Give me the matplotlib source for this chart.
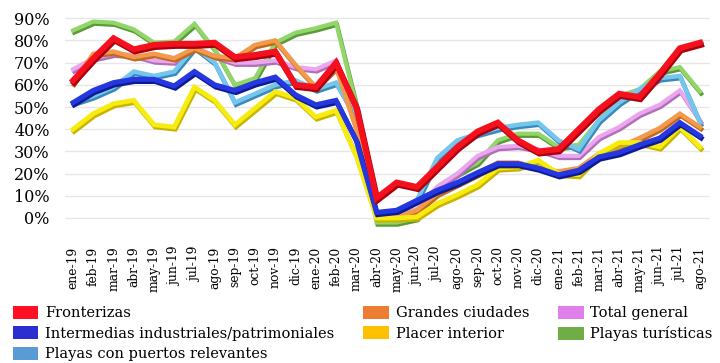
import numpy as np
import matplotlib.pyplot as plt
import matplotlib.patheffects as pe
from matplotlib.patches import Patch

plt.rcParams['font.family'] = ['DejaVu Serif']

months = ['ene-19', 'feb-19', 'mar-19', 'abr-19', 'may-19', 'jun-19', 'jul-19', 'ago-19',
          'sep-19', 'oct-19', 'nov-19', 'dic-19', 'ene-20', 'feb-20', 'mar-20', 'abr-20',
          'may-20', 'jun-20', 'jul-20', 'ago-20', 'sep-20', 'oct-20', 'nov-20', 'dic-20',
          'ene-21', 'feb-21', 'mar-21', 'abr-21', 'may-21', 'jun-21', 'jul-21', 'ago-21']

# occupancy (%) by city group
fronterizas = [62, 72, 81, 76, 78, 78.5, 78.5, 79, 72.5, 73.5, 75, 60, 59, 70, 50, 9,
               16, 14, 23, 32, 39, 43, 35, 30, 31, 40, 49, 56, 54.5, 65, 76.5, 79]
grandes = [61, 74, 75, 72.5, 74, 72, 76.5, 73, 72, 78, 80, 69, 59, 68, 40, 1,
           0.5, 3.5, 11, 15.5, 20, 25, 25, 22.5, 21, 22.5, 29, 32, 36, 40.5, 47, 41]
total = [67, 72, 74, 73.5, 71, 70.5, 77, 73, 70, 70, 71, 68, 67, 71, 45, 1,
         2, 4, 14, 20, 28, 32, 32.5, 31, 28, 28, 36.5, 41, 47, 51, 57.5, 44]
intermedias = [52, 57.5, 61, 62.5, 62.5, 59.5, 66, 60, 57.5, 61, 63.5, 55.5, 51, 53, 35, 2.5,
               3.5, 8, 12.5, 16, 20.5, 24.5, 24.5, 22.5, 19.5, 21.5, 27.5, 29.5, 33, 36, 43, 37]
placer = [40, 47, 51.5, 53, 42, 41, 59, 53, 42, 49.5, 57, 54, 45.5, 48.5, 28, 0,
          0, 0.5, 6.5, 10.5, 15, 22.5, 23, 26, 20, 19.5, 29, 34, 34, 32, 41, 32]
turisticas = [84.5, 88.5, 88, 85, 79, 79.5, 87.5, 76, 60, 63, 79, 83.5, 85.5, 88, 51, -2,
              -2, 0, 14, 20, 25, 35, 38, 38, 32, 33, 44, 55, 58, 66, 68, 57]
puertos = [52, 55, 59, 66, 64, 66, 77, 70, 52, 56, 60, 62, 58, 61, 45, 1,
           3, 8, 27, 35, 38, 40.5, 42, 43, 35, 31, 44, 52, 58, 63, 64, 43]

x = np.arange(len(months))

fig = plt.figure(figsize=(7.2, 3.63), dpi=100)
ax = fig.add_axes([0.0903, 0.375, 0.896, 0.587])

# (name, values, line colour, edge colour, legend colour, width), back to front
series = [
    ('Playas turísticas', turisticas, '#92d66a', '#5a9a3a', '#70ad47', 3.0),
    ('Total general', total, '#eca6f0', '#b070b8', '#df7fe9', 3.0),
    ('Playas con puertos relevantes', puertos, '#74c6ee', '#3a8ab8', '#5b9bd5', 3.2),
    ('Grandes ciudades', grandes, '#f29a4c', '#c06a20', '#ed7d31', 3.2),
    ('Placer interior', placer, '#f7ec10', '#c8b400', '#ffc000', 3.4),
    ('Intermedias industriales/patrimoniales', intermedias, '#2437e0', '#101a90', '#2c2fcf', 3.6),
    ('Fronterizas', fronterizas, '#f5101e', '#a8000e', '#ff1123', 4.2),
]

for name, vals, col, edge, _, lw in series:
    ax.plot(x, vals, color=col, linewidth=lw, solid_joinstyle='miter',
            path_effects=[pe.SimpleLineShadow(offset=(0.8, -1.6), shadow_color=edge, alpha=1.0),
                          pe.Normal()])

ax.set_xlim(-0.4, 31.5)
ax.set_ylim(-4, 92)
ax.set_yticks(np.arange(0, 91, 10))
ax.set_yticklabels([f'{v}%' for v in range(0, 91, 10)], fontsize=11.5)
ax.set_xticks(x)
ax.set_xticklabels(months, rotation=90, fontsize=8.8)
ax.tick_params(axis='both', length=0)
ax.tick_params(axis='y', pad=11)
ax.tick_params(axis='x', pad=14)
ax.grid(axis='y', color='#e6e6e6', linewidth=1.0)
ax.set_axisbelow(True)
for s in ax.spines.values():
    s.set_visible(False)

# legend: filled swatches, three columns
order = ['Fronterizas', 'Intermedias industriales/patrimoniales', 'Playas con puertos relevantes',
         'Grandes ciudades', 'Placer interior', 'Total general', 'Playas turísticas']
legcol = {name: lc for name, _, _, _, lc, _ in series}
handles = [Patch(facecolor=legcol[n], edgecolor='none') for n in order]
fig.legend(handles, order, loc='upper left', bbox_to_anchor=(0.018, 0.158), ncol=3,
           frameon=False, fontsize=10.5, handlelength=1.75, handleheight=1.0,
           handletextpad=0.45, labelspacing=0.42, columnspacing=2.0, borderpad=0,
           borderaxespad=0)

fig.savefig('out.png', dpi=100)
